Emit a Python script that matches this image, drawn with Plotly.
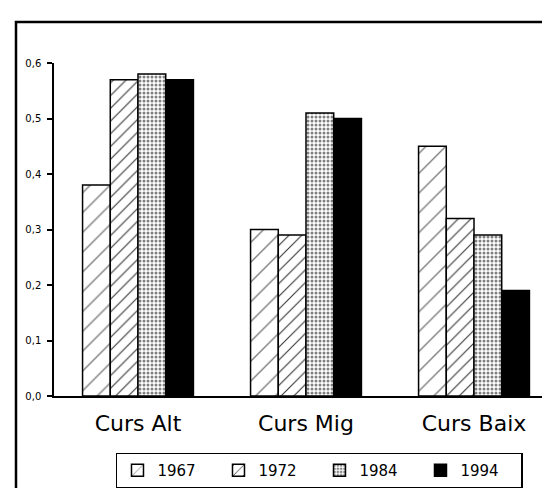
import plotly.graph_objects as go

categories = ["Curs Alt", "Curs Mig", "Curs Baix"]
years = ["1967", "1972", "1984", "1994"]
v1967 = [0.38, 0.30, 0.45]
v1972 = [0.57, 0.29, 0.32]
v1984 = [0.58, 0.51, 0.29]
v1994 = [0.57, 0.50, 0.19]
y_ticks = [0.0, 0.1, 0.2, 0.3, 0.4, 0.5, 0.6]

series = [v1967, v1972, v1984, v1994]
patterns = [
    dict(shape="/", size=14, solidity=0.1, fgcolor="black", bgcolor="white"),
    dict(shape="/", size=9, solidity=0.12, fgcolor="black", bgcolor="white", fgopacity=0.8),
    dict(shape=".", size=4, solidity=0.45, fgcolor="black", bgcolor="white"),
    dict(shape="", fgcolor="black", bgcolor="black"),
]

fig = go.Figure()
for name, vals, pat in zip(years, series, patterns):
    fig.add_trace(go.Bar(
        x=categories, y=vals, name=name,
        marker=dict(color="black" if pat["shape"] == "" else "white",
                    line=dict(color="black", width=1.5), pattern=pat),
    ))

fig.update_layout(
    width=550, height=488,
    margin=dict(l=46, r=0, t=55, b=100),
    paper_bgcolor="white", plot_bgcolor="white",
    barmode="group", bargap=0.34, bargroupgap=0,
    separators=",.",
    font=dict(family="DejaVu Sans", color="black"),
    showlegend=True,
    legend=dict(
        orientation="h", x=0.123, xanchor="left", y=-0.17, yanchor="top",
        bordercolor="black", borderwidth=1.5, bgcolor="white",
        font=dict(size=15, family="DejaVu Sans", color="black"),
        entrywidth=56, entrywidthmode="pixels",
        traceorder="normal",
    ),
    shapes=[dict(type="rect", xref="paper", yref="paper",
                 x0=-0.0754, x1=1.02, y0=1.123, y1=-0.35,
                 line=dict(color="black", width=2.5))],
)
fig.update_xaxes(
    showline=True, linecolor="black", linewidth=1.5,
    ticks="", showgrid=False, zeroline=False,
    tickfont=dict(size=22, family="DejaVu Sans", color="black"),
    ticklabelstandoff=7,
)
fig.update_yaxes(
    range=[0, 0.6], showline=True, linecolor="black", linewidth=1.5,
    ticks="outside", ticklen=5, tickcolor="black", tickwidth=1.5,
    tickvals=y_ticks, tickformat=".1f",
    showgrid=False, zeroline=False,
    tickfont=dict(size=10, family="DejaVu Sans", color="black"),
    ticklabelstandoff=4,
)

fig.write_html("out.html")
